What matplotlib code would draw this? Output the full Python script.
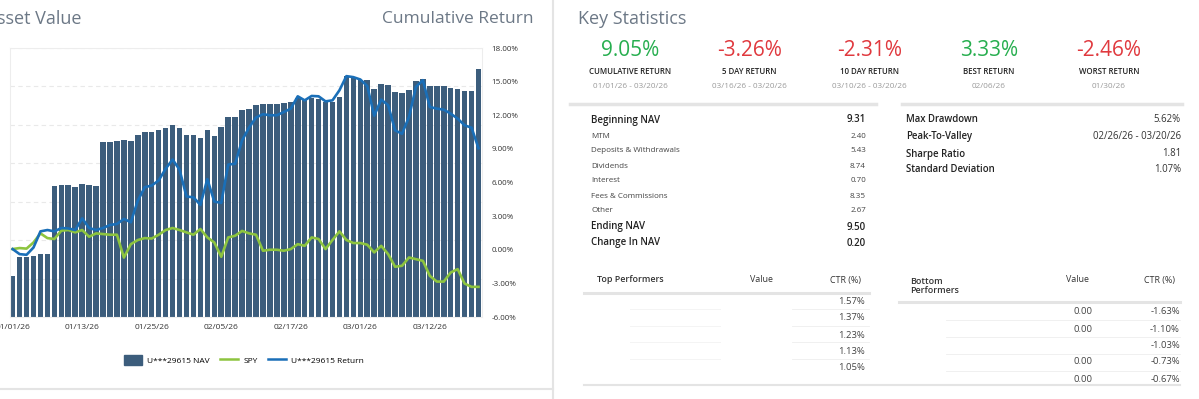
import numpy as np
import matplotlib
matplotlib.use('Agg')
import matplotlib.pyplot as plt
from matplotlib.lines import Line2D
from matplotlib.patches import Patch

plt.rcParams['font.family'] = ['Open Sans', 'DejaVu Sans']

# ---- chart data ----
nav = [1.07, 1.57, 1.57, 1.58, 1.65, 1.65, 3.40, 3.43, 3.43, 3.39, 3.47, 3.43, 3.40,
       4.56, 4.56, 4.59, 4.60, 4.59, 4.73, 4.82, 4.82, 4.87, 4.93, 4.99, 4.93, 4.73,
       4.73, 4.67, 4.86, 4.71, 4.95, 5.20, 5.20, 5.38, 5.42, 5.51, 5.55, 5.55, 5.55,
       5.58, 5.60, 5.71, 5.67, 5.71, 5.68, 5.60, 5.60, 5.73, 6.27, 6.23, 6.18, 6.16,
       5.94, 6.07, 6.03, 5.86, 5.83, 5.92, 6.14, 6.20, 6.01, 6.01, 6.01, 5.97, 5.94,
       5.87, 5.87, 6.45]

acct_return = [0.06, -0.39, -0.45, 0.20, 1.64, 1.76, 1.64, 1.94, 1.90, 1.76, 2.80, 1.94,
               1.76, 1.94, 2.21, 2.30, 2.75, 2.45, 4.38, 5.58, 5.73, 6.18, 7.22, 8.05,
               7.15, 4.75, 4.68, 4.00, 6.30, 4.30, 4.18, 7.60, 7.67, 9.76, 10.90, 11.80,
               12.09, 12.00, 12.00, 12.29, 12.59, 13.69, 13.33, 13.72, 13.69, 13.24, 13.33,
               14.23, 15.49, 15.40, 15.19, 14.60, 11.96, 13.40, 12.90, 10.65, 10.35, 11.84,
               14.53, 15.13, 12.74, 12.59, 12.50, 12.14, 11.70, 11.10, 10.89, 9.05]

spy = [0.06, 0.15, 0.10, 0.65, 1.46, 1.04, 0.96, 1.70, 1.76, 1.55, 1.76, 1.16, 1.46, 1.40,
       1.34, 1.34, -0.70, 0.50, 0.87, 1.04, 1.00, 1.34, 1.76, 1.94, 1.76, 1.55, 1.34, 1.85,
       1.10, 0.65, -0.63, 1.10, 1.25, 1.68, 1.46, 1.34, -0.09, 0.00, 0.00, -0.09, 0.06, 0.50,
       0.35, 1.10, 0.96, 0.06, 0.87, 1.64, 0.87, 0.60, 0.60, 0.45, -0.24, 0.35, -0.39, -1.52,
       -1.43, -0.69, -0.84, -0.99, -2.33, -2.84, -2.84, -2.03, -1.73, -3.02, -3.31, -3.31]

date_labels = ['01/01/26', '01/13/26', '01/25/26', '02/05/26', '02/17/26', '03/01/26', '03/12/26']
date_idx = [0, 10, 20, 30, 40, 50, 60]

# ---- key statistics ----
kpi_values = ['9.05%', '-3.26%', '-2.31%', '3.33%', '-2.46%']
kpi_names = ['CUMULATIVE RETURN', '5 DAY RETURN', '10 DAY RETURN', 'BEST RETURN', 'WORST RETURN']
kpi_dates = ['01/01/26 - 03/20/26', '03/16/26 - 03/20/26', '03/10/26 - 03/20/26', '02/06/26', '01/30/26']

nav_rows = ['Beginning NAV', 'MTM', 'Deposits & Withdrawals', 'Dividends', 'Interest',
            'Fees & Commissions', 'Other', 'Ending NAV', 'Change In NAV']
nav_vals = ['9.31', '2.40', '5.43', '8.74', '0.70', '8.35', '2.67', '9.50', '0.20']
nav_bold = [True, False, False, False, False, False, False, True, True]

risk_rows = ['Max Drawdown', 'Peak-To-Valley', 'Sharpe Ratio', 'Standard Deviation']
risk_vals = ['5.62%', '02/26/26 - 03/20/26', '1.81', '1.07%']

top_ctr = ['1.57%', '1.37%', '1.23%', '1.13%', '1.05%']
bottom_value = ['0.00', '0.00', '', '0.00', '0.00']
bottom_ctr = ['-1.63%', '-1.10%', '-1.03%', '-0.73%', '-0.67%']

BAR = '#3c5d7c'
BLUE = '#1a6fb8'
GREEN = '#8dc43f'
UP = '#27ae4f'
DOWN = '#e0393e'
TITLE = '#6c7886'
LINEC = '#e4e4e4'

W, H = 1199, 399


def fx(x):
    return x / W


def fy(y):
    return 1 - y / H


def hline(fig, x0, x1, y, lw=1.0, color=LINEC):
    fig.add_artist(Line2D([fx(x0), fx(x1)], [fy(y), fy(y)], lw=lw, color=color))


def vline(fig, x, y0, y1, lw=1.0, color=LINEC):
    fig.add_artist(Line2D([fx(x), fx(x)], [fy(y0), fy(y1)], lw=lw, color=color))


def run():
    fig = plt.figure(figsize=(W / 100, H / 100), dpi=100)

    # ---------------- left panel: NAV bars + return lines ----------------
    ax = fig.add_axes([fx(10), fy(317), 472 / W, 269 / H])
    x = np.arange(len(nav))
    ax.bar(x, nav, width=0.8, color=BAR, zorder=2)
    ax.set_xlim(-0.38, len(nav) - 0.5)
    ax.set_ylim(0, 7)
    ax.set_yticks(range(0, 8))
    ax.yaxis.grid(True, ls=(0, (4, 3)), color='#e9e9e9', lw=0.8, zorder=0)
    ax.set_axisbelow(True)
    ax.tick_params(axis='y', which='both', left=False, right=False, labelleft=False, length=0)
    ax.set_xticks(date_idx)
    ax.set_xticklabels(date_labels, fontsize=6, color='#333333')
    ax.tick_params(axis='x', which='both', length=0, pad=5)
    for s in ax.spines.values():
        s.set_color('#ededed')
        s.set_linewidth(0.8)

    ax2 = ax.twinx()
    ax2.plot(x, spy, color=GREEN, lw=1.9, zorder=3)
    ax2.plot(x, acct_return, color=BLUE, lw=1.9, zorder=4)
    ax2.set_ylim(-6, 18)
    ticks = np.arange(-6, 19, 3)
    ax2.set_yticks(ticks)
    ax2.set_yticklabels(['{:.2f}%'.format(t) for t in ticks], fontsize=5.8, color='#333333')
    ax2.tick_params(axis='y', which='both', length=0, pad=7)
    for s in ax2.spines.values():
        s.set_visible(False)

    handles = [Patch(color=BAR), Line2D([], [], color=GREEN, lw=1.8),
               Line2D([], [], color=BLUE, lw=1.8)]
    fig.legend(handles, ['U***29615 NAV', 'SPY', 'U***29615 Return'], loc='center',
               bbox_to_anchor=(fx(244), fy(360)), ncol=3, frameon=False, fontsize=6,
               handlelength=2.2, handleheight=1.4, columnspacing=1.2, handletextpad=0.6)

    fig.text(fx(-3), fy(19), 'sset Value', fontsize=13, color=TITLE, va='center')
    fig.text(fx(533), fy(19), 'Cumulative Return', fontsize=12.5, color=TITLE,
             va='center', ha='right')

    vline(fig, 553, 0, H, lw=1.5)
    hline(fig, 0, 553, 389, lw=1.5)

    # ---------------- right panel: key statistics ----------------
    fig.text(fx(578), fy(19), 'Key Statistics', fontsize=13, color=TITLE, va='center')
    for k in range(len(kpi_values)):
        cx = 630 + 119.7 * k
        col = DOWN if kpi_values[k].startswith('-') else UP
        fig.text(fx(cx), fy(51), kpi_values[k], fontsize=15, color=col, ha='center', va='center')
        fig.text(fx(cx), fy(72), kpi_names[k], fontsize=5.7, color='#222222', ha='center',
                 va='center', fontweight='semibold')
        fig.text(fx(cx), fy(87), kpi_dates[k], fontsize=5.9, color='#9a9a9a', ha='center',
                 va='center')

    hline(fig, 570, 876, 104, lw=2.5)
    hline(fig, 902, 1182, 104, lw=2.5)

    nav_y = [120, 137, 151, 166, 181, 196, 211, 227, 243]
    for name, val, bold, yy in zip(nav_rows, nav_vals, nav_bold, nav_y):
        fs = 7 if bold else 5.8
        fw = 'semibold' if bold else 'normal'
        c = '#222222' if bold else '#444444'
        fig.text(fx(591), fy(yy), name, fontsize=fs, fontweight=fw, color=c, va='center')
        fig.text(fx(866), fy(yy), val, fontsize=fs, fontweight=fw, color=c, va='center',
                 ha='right')

    risk_y = [120, 137, 154, 170]
    for name, val, yy in zip(risk_rows, risk_vals, risk_y):
        fig.text(fx(906), fy(yy), name, fontsize=6.9, fontweight='semibold',
                 color='#222222', va='center')
        fig.text(fx(1181), fy(yy), val, fontsize=6.9, color='#333333', va='center', ha='right')

    # ---------------- performers tables ----------------
    fig.text(fx(597), fy(280), 'Top Performers', fontsize=6.4, fontweight='semibold',
             color='#333333', va='center')
    fig.text(fx(762), fy(280), 'Value', fontsize=6.4, color='#333333', va='center', ha='center')
    fig.text(fx(861), fy(280), 'CTR (%)', fontsize=6.4, color='#333333', va='center', ha='right')
    hline(fig, 584, 869, 293, lw=2.2)
    top_y = [301, 318, 335, 351, 368]
    for val, yy in zip(top_ctr, top_y):
        fig.text(fx(865), fy(yy), val, fontsize=6.8, color='#444444', va='center', ha='right')
    for yy in [309, 326, 342, 359]:
        hline(fig, 792, 869, yy, lw=0.6, color='#eeeeee')
        hline(fig, 630, 720, yy, lw=0.6, color='#f2f2f2')

    fig.text(fx(910), fy(286), 'Bottom\nPerformers', fontsize=6.4, fontweight='semibold',
             color='#333333', va='center', linespacing=0.9)
    fig.text(fx(1077), fy(280), 'Value', fontsize=6.4, color='#333333', va='center', ha='center')
    fig.text(fx(1175), fy(280), 'CTR (%)', fontsize=6.4, color='#333333', va='center', ha='right')
    hline(fig, 899, 1180, 302, lw=2.2)
    bot_y = [312, 329, 346, 362, 379]
    for v, c, yy in zip(bottom_value, bottom_ctr, bot_y):
        fig.text(fx(1093), fy(yy), v, fontsize=6.8, color='#444444', va='center', ha='right')
        fig.text(fx(1180), fy(yy), c, fontsize=6.8, color='#444444', va='center', ha='right')
    for yy in [320, 337, 354, 371]:
        hline(fig, 946, 1180, yy, lw=0.6, color='#eeeeee')

    hline(fig, 584, 1180, 385, lw=1.5)

    fig.savefig('out.png', dpi=100, facecolor='white')


if __name__ == "__main__":

    run()
